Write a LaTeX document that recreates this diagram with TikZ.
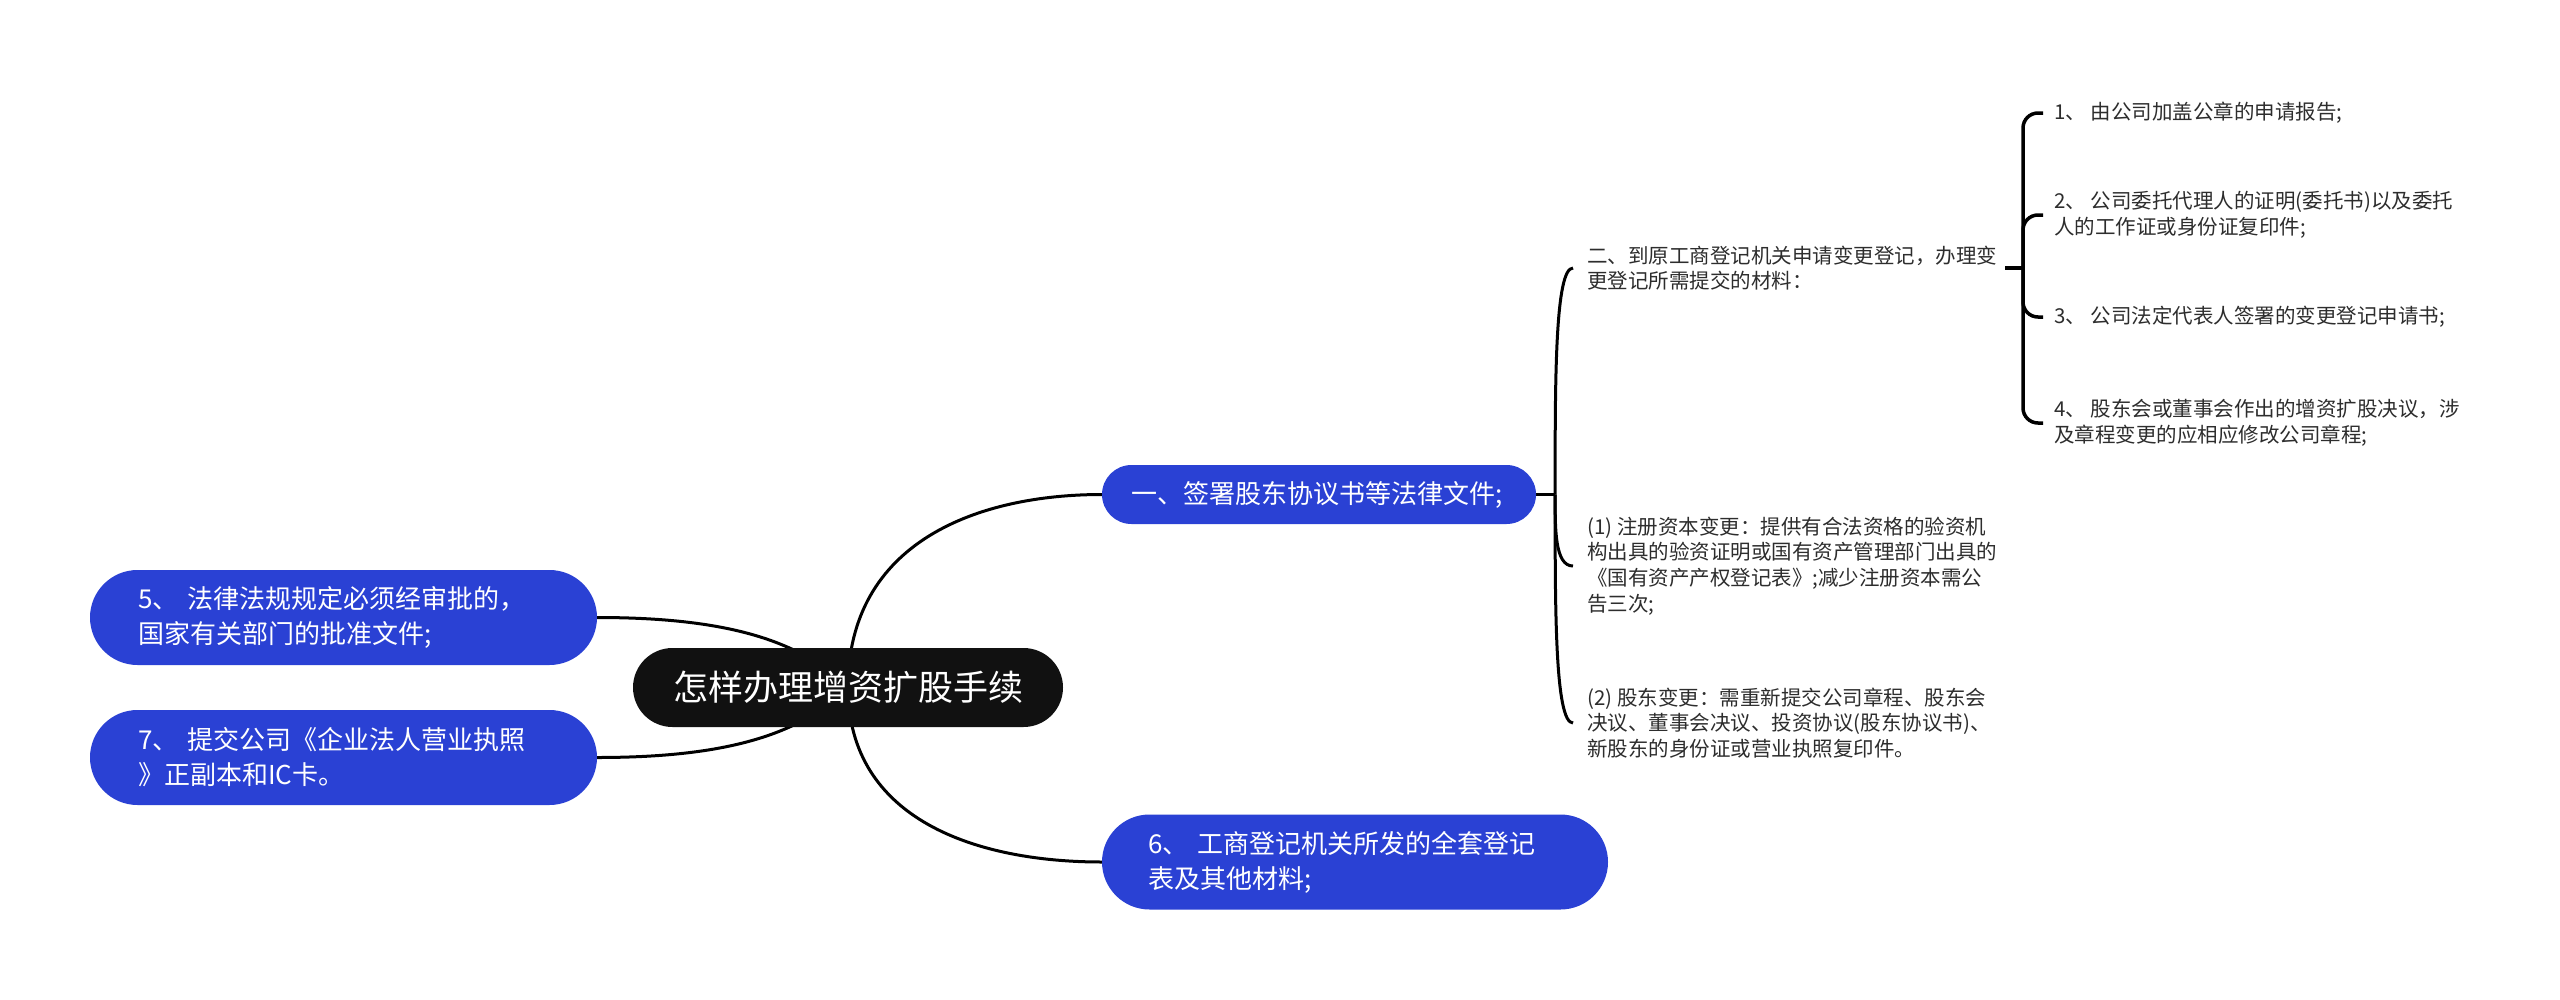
\documentclass[tikz,border=0pt]{standalone}
\usepackage{fontspec}
\setmainfont{Noto Sans CJK SC}
\usetikzlibrary{backgrounds,calc}
\definecolor{mblue}{RGB}{42,65,212}
\definecolor{rootblack}{RGB}{17,17,17}
\definecolor{tgray}{RGB}{45,45,45}
\tikzset{
  conn/.style={draw=black, line width=3pt},
  bracethree/.style={draw=black, line width=3.5pt, rounded corners=15pt},
  rootbox/.style={fill=rootblack, text=white, font=\fontsize{35}{40}\selectfont, inner sep=0pt},
  bluebox/.style={fill=mblue, text=white, align=left, font=\fontsize{26}{35}\selectfont, inner ysep=0pt},
  leaf/.style={text=tgray, align=left, anchor=west, inner sep=0pt, font=\fontsize{20.5}{25.7}\selectfont},
}
\begin{document}
\begin{tikzpicture}[x=1pt,y=-1pt]
\useasboundingbox (0,0) rectangle (2560,999);
% main nodes
\node[rootbox, minimum width=430pt, minimum height=79pt, rounded corners=39.5pt] (root) at (848,687.5) {怎样办理增资扩股手续};
\node[bluebox, minimum width=434pt, minimum height=59pt, rounded corners=29.5pt, text width=376pt, inner xsep=29pt] (n1) at (1319,494.5) {一、签署股东协议书等法律文件;};
\node[bluebox, minimum width=506pt, minimum height=95pt, rounded corners=47.5pt, text width=414pt, inner xsep=46pt] (n6) at (1355,862) {6、 工商登记机关所发的全套登记\\表及其他材料;};
\node[bluebox, minimum width=507pt, minimum height=95pt, rounded corners=47.5pt, text width=411pt, inner xsep=48pt] (n5) at (343.5,617.5) {5、 法律法规规定必须经审批的，\\国家有关部门的批准文件;};
\node[bluebox, minimum width=507pt, minimum height=95pt, rounded corners=47.5pt, text width=411pt, inner xsep=48pt] (n7) at (343.5,757.5) {7、 提交公司《企业法人营业执照\\》正副本和IC卡。};
% level 2 texts
\node[leaf] (t2) at (1587,268) {二、到原工商登记机关申请变更登记，办理变\\更登记所需提交的材料：};
\node[leaf] (t21) at (1587,566) {(1) 注册资本变更：提供有合法资格的验资机\\构出具的验资证明或国有资产管理部门出具的\\《国有资产产权登记表》;减少注册资本需公\\告三次;};
\node[leaf] (t22) at (1587,723) {(2) 股东变更：需重新提交公司章程、股东会\\决议、董事会决议、投资协议(股东协议书)、\\新股东的身份证或营业执照复印件。};
% level 3 texts
\node[leaf] (i1) at (2054,113) {1、 由公司加盖公章的申请报告;};
\node[leaf] (i2) at (2054,215) {2、 公司委托代理人的证明(委托书)以及委托\\人的工作证或身份证复印件;};
\node[leaf] (i3) at (2054,317) {3、 公司法定代表人签署的变更登记申请书;};
\node[leaf] (i4) at (2054,423) {4、 股东会或董事会作出的增资扩股决议，涉\\及章程变更的应相应修改公司章程;};
% helper coordinates
\coordinate (b1) at ($(n1.east)+(19,0)$);
\coordinate (e2) at ($(t2.west)+(-14,0)$);
\coordinate (e21) at ($(t21.west)+(-14,0)$);
\coordinate (e22) at ($(t22.west)+(-14,0)$);
\coordinate (s2) at (2005,268);
\coordinate (b2) at (2023,268);
\coordinate (f1) at ($(i1.west)+(-11,0)$);
\coordinate (f2) at ($(i2.west)+(-11,0)$);
\coordinate (f3) at ($(i3.west)+(-11,0)$);
\coordinate (f4) at ($(i4.west)+(-11,0)$);
\begin{pgfonlayer}{background}
\fill[white] (0,0) rectangle (2560,999);
\draw[conn] (root.center) .. controls +(0,-147) and +(-122,0) .. (n1.west);
\draw[conn] (root.center) .. controls +(0,133) and +(-124,0) .. (n6.west);
\draw[conn] (n5.east) .. controls +(130,0) and +(-48,-47) .. (root.center);
\draw[conn] (n7.east) .. controls +(130,0) and +(-48,47) .. (root.center);
\draw[conn] (n1.east) -- (b1);
\draw[conn] (b1) .. controls (1555,381) and (1555,268) .. (e2);
\draw[conn] (b1) .. controls (1555,530) and (1555,566) .. (e21);
\draw[conn] (b1) .. controls (1555,609) and (1555,723) .. (e22);
\draw[conn, line width=3.5pt] (s2) -- (b2);
\draw[bracethree] (b2) |- (f1);
\draw[bracethree] (b2) |- (f2);
\draw[bracethree] (b2) |- (f3);
\draw[bracethree] (b2) |- (f4);
\end{pgfonlayer}
\end{tikzpicture}
\end{document}
